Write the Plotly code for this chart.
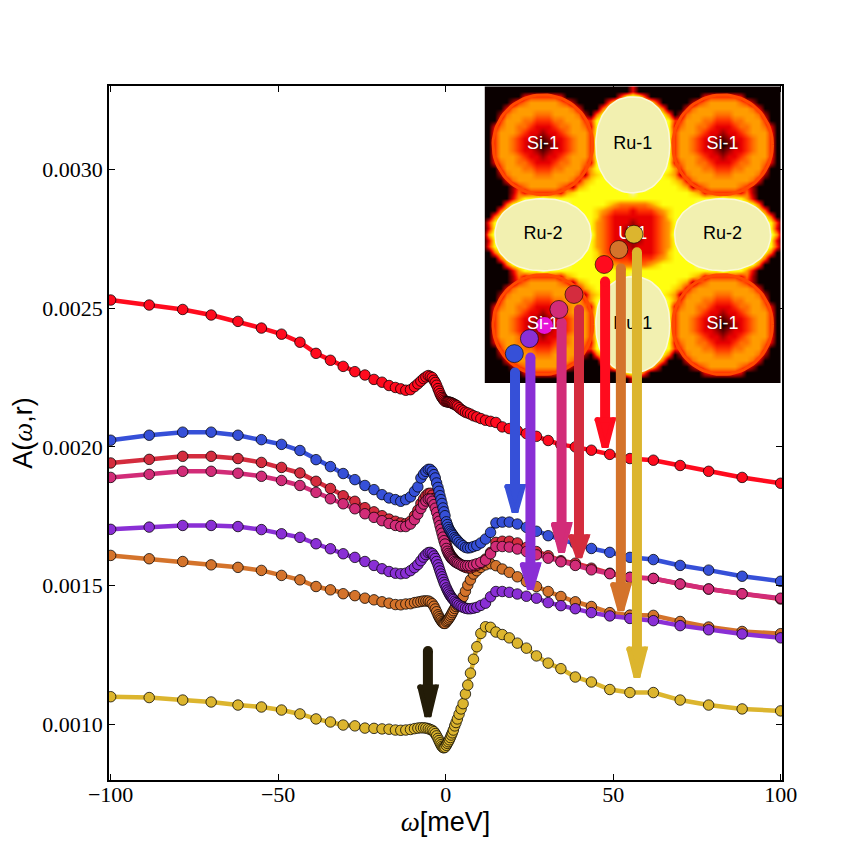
import numpy as np
import plotly.graph_objects as go

# energy mesh (meV), same on both sides of zero
mesh = [100, 88.5, 78.5, 70, 62, 55, 49, 43.5, 38.7, 34.4, 30.6, 27.1, 24.1, 21.4, 19, 16.9, 15,
        13.4, 11.9, 10.5, 9.3, 8.3, 7.4, 6.6, 5.9, 5.2, 4.6, 4, 3.5, 3.1, 2.7, 2.3, 2, 1.7, 1.4,
        1.1, 0.8, 0.5, 0.2]
omega = [-m for m in mesh] + mesh[::-1]

# A(w,r), in units of 1e-5
red = [252.9, 251.1, 249.5, 247.5, 245.2, 242.8, 240.6, 237.7, 233.7, 231.2, 229, 227.1, 225.9, 224.3, 223.3,
       222.1, 221.4, 220.9, 220.4, 220.6, 221.7, 222.7, 223.7, 224.6, 225.2, 225.7, 225.4, 225, 224, 223.2,
       222.2, 221, 220.1, 219.2, 218.4, 217.8, 217.3, 216.8, 216.4,
       216.3, 216.2, 216.2, 216.1, 216, 215.9, 215.7, 215.5, 215.3, 215, 214.7, 214.1, 213.5, 213, 212.5,
       212.2, 211.8, 211.2, 210.8, 210.2, 209.6, 209.2, 208.8, 207.2, 206.6, 205.8, 204.8, 203.8, 202.3,
       200.8, 200, 198.8, 197.3, 195.8, 195.2, 193.3, 191.2, 189, 186.9]
blue = [202.4, 204.2, 205.3, 205.3, 204.2, 202.6, 200.9, 198.7, 195.4, 192.9, 190.4, 188.2, 186.1, 184.6, 182.8,
        181.6, 181, 180.4, 181, 182, 184, 185.6, 188.8, 190.2, 191.2, 191.9, 191.9, 191.2, 190, 188.8,
        187, 185.4, 184, 182.4, 181, 179.6, 178, 176.6, 175.2,
        173, 172, 171, 170.2, 169.6, 169, 168.5, 168, 167.3, 166.8, 166.3, 165.6, 165, 164.4, 163.8,
        163.6, 163.7, 164.1, 164.5, 165.4, 166.8, 169.2, 172.6, 172.9, 172.9, 172.2, 171, 169.6, 168,
        166.6, 165.2, 163.4, 162, 160.2, 159.4, 157.3, 155.6, 153.4, 151.6]
crimson = [194.2, 195.5, 196.6, 196.6, 195.8, 194.4, 192.6, 190.6, 187.6, 185, 182.4, 180.4, 178.1, 176.6, 175.2,
           174, 173.2, 172.6, 172.3, 173.2, 175.2, 177.2, 179.6, 181.2, 182.4, 183.2, 183.3, 182.6, 181.4, 180,
           178.4, 176.8, 175.4, 173.9, 172.4, 170.9, 169.4, 167.9, 166.5,
           164.8, 163.6, 162.6, 161.8, 161.2, 160.6, 160.2, 159.8, 159.2, 158.8, 158.4, 158, 157.4, 157, 156.6,
           156.4, 156.4, 156.8, 157.3, 158, 159.6, 162, 165.6, 166, 166, 165.4, 163.8, 162.3, 160.8,
           159, 158.1, 156.3, 154.5, 153, 152.6, 150.6, 148.8, 147.1, 145.2]
pink = [189, 190.1, 191.2, 191.2, 190.5, 189.4, 187.9, 186.1, 183.6, 181.3, 179.5, 177.7, 175.9, 174.6, 173.4,
        172.4, 171.7, 171.3, 171.3, 172.2, 173.8, 175.8, 177.8, 179.4, 180.5, 181.2, 181.2, 180.4, 179.2, 177.9,
        176.4, 174.6, 173.2, 171.7, 170.3, 168.9, 167.5, 166.2, 165,
        163.4, 162.4, 161.6, 161, 160.4, 159.9, 159.5, 159.2, 158.7, 158.4, 158.1, 157.8, 157.5, 157.3, 157.2,
        157.2, 157.2, 157.5, 157.9, 158.4, 159.2, 161.5, 164.1, 164.1, 163.9, 163.2, 162.3, 161.1, 159.9,
        158.6, 157.3, 155.7, 154.3, 153, 152.6, 150.6, 148.8, 147.1, 145.5]
purple = [170.3, 171.1, 171.7, 171.7, 171.3, 170.2, 168.7, 167.4, 165.1, 163.3, 161.5, 160.2, 158.7, 157.3, 156.1,
          155.1, 154.5, 154.3, 154.5, 155.4, 156.5, 157.6, 159, 160.3, 161.2, 161.9, 162, 161.6, 160.7, 159.8,
          158.7, 157.5, 156.4, 155.3, 154.2, 153.2, 152.2, 151.2, 150.3,
          149.2, 148.4, 147.7, 147, 146.4, 145.9, 145.4, 145, 144.4, 143.9, 143.5, 143, 142.6, 142.2, 141.9,
          141.7, 141.7, 141.9, 142.2, 142.9, 143.7, 146, 147.9, 147.9, 147.6, 147, 146.2, 145.5, 143.9,
          142.8, 141.7, 140.3, 139.1, 138.2, 137.4, 135.6, 134.1, 132.6, 131.2]
orange = [160.9, 159.7, 158.7, 157.5, 156.6, 155.5, 153.7, 152.1, 149.7, 148.5, 147.1, 146.4, 145.5, 144.9, 144.2,
          143.7, 143.2, 143.1, 143.4, 143.5, 143.9, 144.1, 144.3, 144.5, 144.5, 144.5, 144.1, 143.5, 142.6, 141.6,
          140.6, 139.5, 138.8, 138.1, 137.6, 137, 136.6, 136.4, 136.4,
          137, 137.4, 137.9, 138.4, 139, 139.6, 140.3, 141, 141.8, 142.5, 143, 144.1, 144.9, 146, 148,
          150.2, 152.1, 154.2, 155.4, 156.6, 157.5, 157.9, 157.2, 156, 154.8, 153.2, 151.5, 149.7, 147.9,
          146.1, 144.2, 142.5, 140.3, 139.4, 139.3, 137.1, 135.1, 133.5, 132.7]
gold = [110, 109.7, 108.8, 108.1, 107, 106.3, 105.2, 103.8, 102, 100.9, 99.8, 99.5, 98.7, 98.6, 98.4,
        98.3, 98, 97.9, 98, 98.2, 98.5, 98.7, 98.8, 98.8, 98.7, 98.5, 98.2, 97.9, 97.4, 96.7,
        95.9, 95, 94.2, 93.4, 92.7, 92.1, 91.7, 91.6, 91.8,
        92.5, 93.2, 93.8, 94.5, 95.3, 96.2, 97, 98, 99.5, 100.7, 102, 103.7, 105.6, 107.5, 111,
        114.2, 118.5, 123.5, 128, 132.8, 135.2, 135, 133.3, 132.4, 131.2, 129.3, 127.5, 124.7, 122.1,
        120.1, 117.1, 115.3, 112.6, 111.5, 111.5, 108.8, 107, 105.6, 104.9]

# drawing order as in the picture, gold at the bottom
series = [("gold", gold, "#dcb52e"), ("orange", orange, "#d4732b"), ("crimson", crimson, "#d42c3e"),
          ("pink", pink, "#d22c78"), ("purple", purple, "#8a2fd5"), ("blue", blue, "#3650d8"),
          ("red", red, "#ff0b1e")]
for name, vals, _ in series:
    assert len(vals) == len(omega), name

# arrows: x, shaft top, head top, tip, colour
arrow_x = [20.7, 25.3, 34.6, 39.8, 47.6, 52.3, 57.1, -5.3]
arrow_top = [.002268, .002322, .002448, .002495, .002596, .002643, .002701, .001265]
arrow_head = [.001857, .001575, .00172, .001676, .002098, .001503, .001272, .001135]
arrow_tip = [.001763, .001485, .001619, .0016, .001997, .001409, .001168, .001027]
arrow_col = ["#3650d8", "#8a2fd5", "#d22c78", "#d42c3e", "#ff0b1e", "#d4732b", "#dcb52e", "#231c08"]

# site markers on the map
site_x = [20.5, 25, 33.8, 38.3, 47.3, 51.7, 56.2]
site_y = [.002336, .00239, .002495, .002549, .002657, .002711, .002766]
site_col = ["#3650d8", "#8a2fd5", "#d22c78", "#d42c3e", "#ff0b1e", "#d4732b", "#dcb52e"]

# map of the unit cell: upper left quadrant, colour levels 0-9, read by eye
quadrant = [
    "00000000000000000000000003",
    "00000000000000000000000003",
    "00000003444443000000000489",
    "00000245666665420000048999",
    "00003566666666653000589999",
    "00025666655566665205899999",
    "00046665544455666448999999",
    "00356655433345566538999999",
    "00466654332334566648999999",
    "00466543321233456648999999",
    "00466543210123456649999999",
    "00466543321233456648999999",
    "00466654332334566648999999",
    "00356655433345566538999999",
    "00046665544455666468999999",
    "00025666655566665267899999",
    "00003566666666653678889999",
    "00000245666665426788888999",
    "00000253444443678888888889",
    "00000368889888888888888888",
    "00005899999999988888876555",
    "00058999999999998887654443",
    "00589999999999999887543333",
    "04899999999999999986543332",
    "03899999999999999986543322",
    "06999999999999999996543322",
]
levels = ["#0a0000", "#5a0000", "#a00000", "#e80000", "#ff3000", "#ff7000", "#ff9c00", "#ffd800", "#ffff10", "#f2f0b0"]
labels = ["Si-1", "Ru-1", "Si-1", "Ru-2", "U-1", "Ru-2", "Si-1", "Ru-1", "Si-1"]
label_col = ["white", "black", "white", "black", "white", "black", "white", "black", "white"]
label_x = [-90, 0, 90, -90, 0, 90, -90, 0, 90]
label_y = [90, 90, 90, 0, 0, 0, -90, -90, -90]

rows = [[int(c) for c in r] + [int(c) for c in r[-2::-1]] for r in quadrant]
z = rows + rows[-2::-1]
cells = np.arange(-150, 151, 6)

fig = go.Figure()

for name, vals, col in series:
    fig.add_trace(go.Scatter(x=omega, y=np.array(vals) * 1e-5, mode="lines+markers", name=name,
                             line=dict(color=col, width=4.5),
                             marker=dict(color=col, size=10.5, line=dict(color="rgba(0,0,0,0.75)", width=1))))

# inset map
fig.add_trace(go.Heatmap(x=cells, y=cells[::-1], z=z, xaxis="x2", yaxis="y2", zmin=0, zmax=9, zsmooth="best",
                         colorscale=[[i / 9, c] for i, c in enumerate(levels)], showscale=False))
t = np.linspace(0, 2 * np.pi, 90)
# crisp rim of the Si discs
for cx, cy in [(-90, 90), (90, 90), (-90, -90), (90, -90)]:
    fig.add_trace(go.Scatter(x=cx + 50 * np.cos(t), y=cy + 50 * np.sin(t), xaxis="x2", yaxis="y2", mode="lines",
                             line=dict(color="#ff4a00", width=3), hoverinfo="skip"))
cs, sn = np.sign(np.cos(t)) * np.abs(np.cos(t)) ** 0.92, np.sign(np.sin(t)) * np.abs(np.sin(t)) ** 0.92
for cx, cy, a, b in [(0, 90, 37, 48), (0, -90, 37, 48), (-90, 0, 48, 36), (90, 0, 48, 36)]:
    fig.add_trace(go.Scatter(x=cx + a * cs, y=cy + b * sn, xaxis="x2", yaxis="y2", mode="lines", fill="toself",
                             fillcolor="#f2f0b0", line=dict(color="#fbf8d8", width=1.5), hoverinfo="skip"))
# this site lies under the label in the picture
fig.add_trace(go.Scatter(x=[-88.5], y=[-91], xaxis="x2", yaxis="y2", mode="markers",
                         marker=dict(color="#e614d8", size=17, line=dict(width=0))))
fig.add_trace(go.Scatter(x=label_x, y=label_y, xaxis="x2", yaxis="y2", mode="text", text=labels,
                         textfont=dict(family="Liberation Sans", size=18, color=label_col)))

# arrows and site markers sit on top of everything
for x, top, head, tip, col in zip(arrow_x, arrow_top, arrow_head, arrow_tip, arrow_col):
    fig.add_trace(go.Scatter(x=[x, x], y=[top, head], xaxis="x3", yaxis="y3", mode="lines+markers",
                             line=dict(color=col, width=10),
                             marker=dict(color=col, size=[10, 0], opacity=1, line=dict(width=0))))
    # round the head corners with small dots on the polygon's vertices
    fig.add_trace(go.Scatter(x=[x - 2.4, x + 2.4, x + 0.4, x - 0.4, x - 2.4],
                             y=[head, head, tip + 8e-6, tip + 8e-6, head],
                             xaxis="x3", yaxis="y3", mode="lines+markers", fill="toself", fillcolor=col,
                             line=dict(color=col, width=5), marker=dict(color=col, size=5, line=dict(width=0))))
fig.add_trace(go.Scatter(x=site_x, y=site_y, xaxis="x3", yaxis="y3", mode="markers",
                         marker=dict(color=site_col, size=18, line=dict(color="rgba(0,0,0,0.6)", width=1))))

axis_style = dict(showgrid=False, zeroline=False, showline=True, linecolor="black", linewidth=1.5,
                  mirror="ticks", ticks="inside", ticklen=6, tickwidth=1, tickcolor="black", automargin=False,
                  tickfont=dict(family="Liberation Serif", size=22, color="black"))
omega_title = "<span style='font-family:Liberation Serif;font-style:italic'>ω</span>[meV]"
a_title = "A(<span style='font-family:Liberation Serif;font-style:italic'>ω</span>,r)"
hidden = dict(visible=False, fixedrange=True)

# the page body pushes the figure 8px right and down, taken off the margins here
fig.update_layout(
    width=868, height=867, showlegend=False, plot_bgcolor="rgba(0,0,0,0)", paper_bgcolor="white",
    margin=dict(l=101, r=94, t=78, b=95),
    font=dict(family="Liberation Sans"),
    xaxis=dict(axis_style, range=[-100.5, 100.4], tickvals=[-100, -50, 0, 50, 100], ticklabelstandoff=-6,
               title=dict(text=omega_title, font=dict(size=27, color="black"), standoff=1)),
    yaxis=dict(axis_style, range=[0.0008, 0.0033], tickvals=[0.001, 0.0015, 0.002, 0.0025, 0.003],
               tickformat=".4f", title=dict(text=a_title, font=dict(size=27, color="black"), standoff=7)),
    xaxis2=dict(hidden, domain=[0.558, 0.9985], anchor="y2", range=[-148.5, 148.5]),
    yaxis2=dict(hidden, domain=[0.572, 0.9995], anchor="x2", range=[-148.5, 148.5]),
    xaxis3=dict(hidden, domain=[0, 1], anchor="y3", range=[-100.5, 100.4]),
    yaxis3=dict(hidden, domain=[0, 1], anchor="x3", range=[0.0008, 0.0033]),
)

fig.write_html("out.html")
